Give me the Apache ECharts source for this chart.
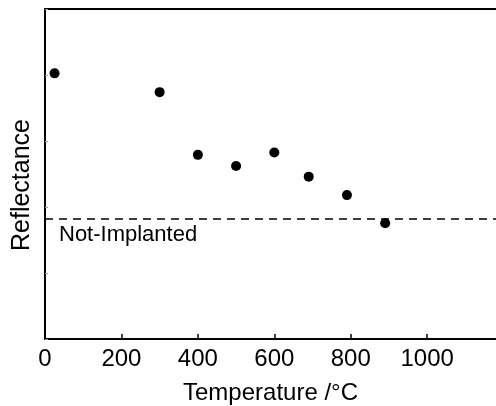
<!DOCTYPE html>
<html>
<head>
<meta charset="utf-8">
<script src="https://cdn.jsdelivr.net/npm/echarts@6/dist/echarts.min.js"></script>
<style>html,body{margin:0;padding:0;background:#fff;}#c{width:496px;height:406px;}</style>
</head>
<body>
<div id="c"></div>
<script>
const temperatures = [25, 300, 400, 500, 600, 690, 790, 890];
const reflectance = [80.5, 74.8, 55.8, 52.4, 56.5, 49.2, 43.6, 35.1];
const notImplantedLevel = 36.3;
const xTickValues = [0, 200, 400, 600, 800, 1000];

const font = '"Liberation Sans", Arial, sans-serif';
const chart = echarts.init(document.getElementById('c'), null, {renderer: 'canvas'});
chart.setOption({
  animation: false,
  backgroundColor: '#fff',
  grid: {left: 45, right: 0, top: 9, bottom: 67, containLabel: false, outerBoundsMode: 'none'},
  xAxis: [{
    type: 'value', min: 0, max: 1180, interval: 200,
    name: 'Temperature /°C', nameLocation: 'middle', nameGap: 42,
    nameTextStyle: {color: '#000', fontSize: 24, fontFamily: font},
    axisLine: {show: true, lineStyle: {color: '#000', width: 2}},
    axisTick: {show: true, inside: true, length: 5, lineStyle: {color: '#000', width: 1.5},
      customValues: xTickValues.slice(1)},
    axisLabel: {color: '#000', fontSize: 24, fontFamily: font, margin: 8,
      customValues: xTickValues,
      formatter: v => String(v)},
    splitLine: {show: false}
  }, {
    type: 'value', min: 0, max: 1180, position: 'top',
    axisLine: {show: true, onZero: false, lineStyle: {color: '#000', width: 2}},
    axisTick: {show: false}, axisLabel: {show: false}, splitLine: {show: false}
  }],
  yAxis: {
    type: 'value', min: 0, max: 100, interval: 20,
    name: 'Reflectance', nameLocation: 'middle', nameGap: 10,
    nameTextStyle: {color: '#000', fontSize: 25, fontFamily: font, padding: [0, 22, 0, 0]},
    axisLine: {show: true, lineStyle: {color: '#000', width: 2}},
    axisTick: {show: true, inside: true, length: 3, lineStyle: {color: '#999', width: 1}},
    axisLabel: {show: false},
    splitLine: {show: false}
  },
  series: [{
    type: 'scatter',
    xAxisIndex: 0,
    data: temperatures.map((t, i) => [t, reflectance[i]]),
    symbol: 'circle', symbolSize: 10,
    itemStyle: {color: '#000', opacity: 1},
    z: 5,
    markLine: {
      silent: true, symbol: 'none',
      lineStyle: {color: '#000', type: [8, 6], width: 1.5},
      label: {show: true, position: 'insideStartBottom', formatter: 'Not-Implanted',
        color: '#000', fontSize: 22, fontFamily: font, distance: [14, 5]},
      data: [{yAxis: notImplantedLevel}]
    }
  }]
});
</script>
</body>
</html>
